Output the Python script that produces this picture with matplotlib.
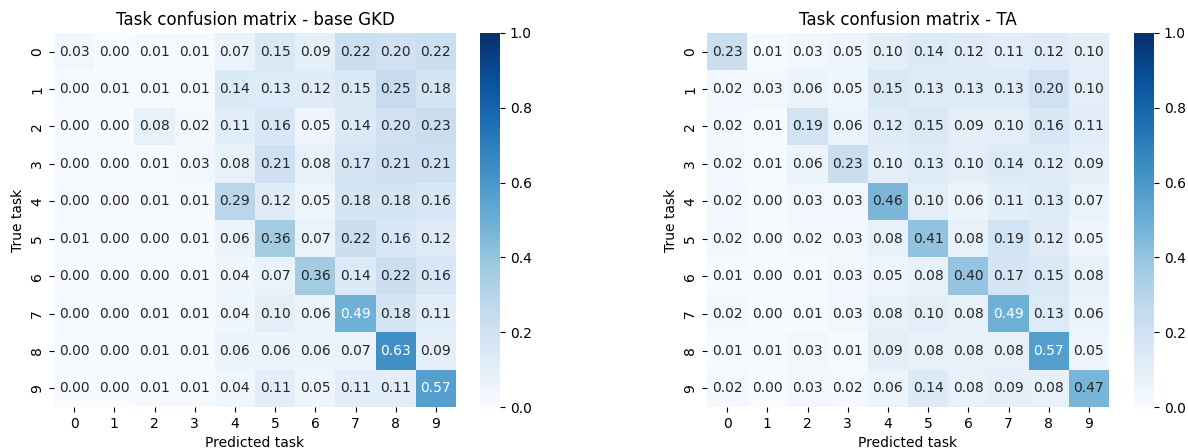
import numpy as np
import matplotlib
matplotlib.use("Agg")
import matplotlib.pyplot as plt
import seaborn as sns

tasks = [str(i) for i in range(10)]

base_gkd = [
    [0.03, 0.00, 0.01, 0.01, 0.07, 0.15, 0.09, 0.22, 0.20, 0.22],
    [0.00, 0.01, 0.01, 0.01, 0.14, 0.13, 0.12, 0.15, 0.25, 0.18],
    [0.00, 0.00, 0.08, 0.02, 0.11, 0.16, 0.05, 0.14, 0.20, 0.23],
    [0.00, 0.00, 0.01, 0.03, 0.08, 0.21, 0.08, 0.17, 0.21, 0.21],
    [0.00, 0.00, 0.01, 0.01, 0.29, 0.12, 0.05, 0.18, 0.18, 0.16],
    [0.01, 0.00, 0.00, 0.01, 0.06, 0.36, 0.07, 0.22, 0.16, 0.12],
    [0.00, 0.00, 0.00, 0.01, 0.04, 0.07, 0.36, 0.14, 0.22, 0.16],
    [0.00, 0.00, 0.01, 0.01, 0.04, 0.10, 0.06, 0.49, 0.18, 0.11],
    [0.00, 0.00, 0.01, 0.01, 0.06, 0.06, 0.06, 0.07, 0.63, 0.09],
    [0.00, 0.00, 0.01, 0.01, 0.04, 0.11, 0.05, 0.11, 0.11, 0.57],
]

ta = [
    [0.23, 0.01, 0.03, 0.05, 0.10, 0.14, 0.12, 0.11, 0.12, 0.10],
    [0.02, 0.03, 0.06, 0.05, 0.15, 0.13, 0.13, 0.13, 0.20, 0.10],
    [0.02, 0.01, 0.19, 0.06, 0.12, 0.15, 0.09, 0.10, 0.16, 0.11],
    [0.02, 0.01, 0.06, 0.23, 0.10, 0.13, 0.10, 0.14, 0.12, 0.09],
    [0.02, 0.00, 0.03, 0.03, 0.46, 0.10, 0.06, 0.11, 0.13, 0.07],
    [0.02, 0.00, 0.02, 0.03, 0.08, 0.41, 0.08, 0.19, 0.12, 0.05],
    [0.01, 0.00, 0.01, 0.03, 0.05, 0.08, 0.40, 0.17, 0.15, 0.08],
    [0.02, 0.00, 0.01, 0.03, 0.08, 0.10, 0.08, 0.49, 0.13, 0.06],
    [0.01, 0.01, 0.03, 0.01, 0.09, 0.08, 0.08, 0.08, 0.57, 0.05],
    [0.02, 0.00, 0.03, 0.02, 0.06, 0.14, 0.08, 0.09, 0.08, 0.47],
]

titles = ["Task confusion matrix - base GKD", "Task confusion matrix - TA"]

fig = plt.figure(figsize=(11.88, 4.48), dpi=100)
bottom = 41 / 448
height = 374 / 448
W = 1188
ax_pos = [(54 / W, 402 / W), (707 / W, 402 / W)]
cb_pos = [(480 / W, 20 / W), (1134 / W, 20 / W)]

for data, title, (axl, axw), (cbl, cbw) in zip([base_gkd, ta], titles, ax_pos, cb_pos):
    ax = fig.add_axes([axl, bottom, axw, height])
    cax = fig.add_axes([cbl, bottom, cbw, height])
    sns.heatmap(np.array(data), ax=ax, cbar_ax=cax, cmap="Blues", vmin=0, vmax=1,
                annot=True, fmt=".2f", xticklabels=tasks, yticklabels=tasks,
                annot_kws={"fontsize": 10})
    ax.set_title(title, fontsize=12)
    ax.set_xlabel("Predicted task", fontsize=10)
    ax.set_ylabel("True task", fontsize=10)
    plt.setp(ax.get_yticklabels(), rotation=90, va="center")
    plt.setp(ax.get_xticklabels(), rotation=0)
    cax.tick_params(labelsize=10)

fig.savefig("out.png", dpi=100)
